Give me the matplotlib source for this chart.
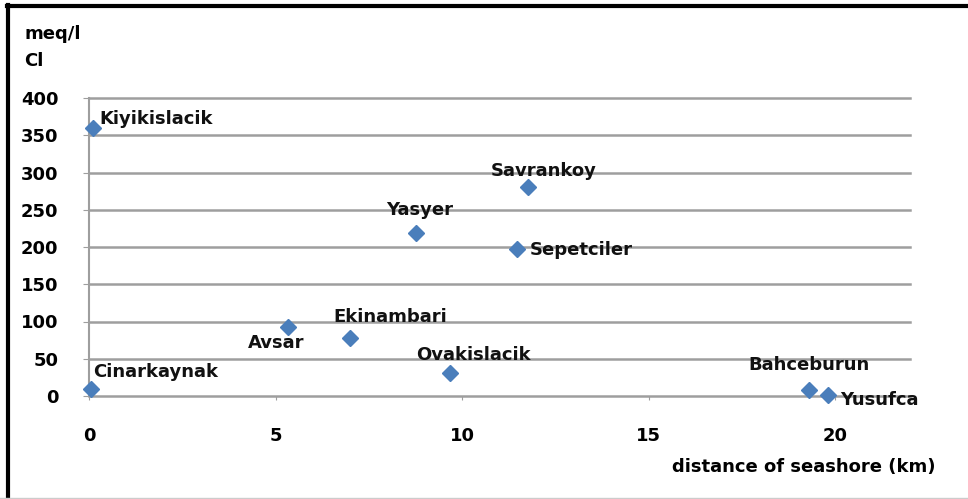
import matplotlib
matplotlib.use("Agg")
import matplotlib.pyplot as plt
from matplotlib.lines import Line2D

# Cl concentration vs distance from seashore
villages = ["Kiyikislacik", "Cinarkaynak", "Avsar", "Ekinambari", "Yasyer",
            "Ovakislacik", "Sepetciler", "Savrankoy", "Bahceburun", "Yusufca"]
distance_km = [0.1, 0.05, 5.32, 7.0, 8.76, 9.68, 11.48, 11.77, 19.3, 19.8]
cl_meq = [360, 9, 93, 78, 219, 31, 197, 281, 8, 2]

x_ticks = [0, 5, 10, 15, 20]
y_ticks = [0, 50, 100, 150, 200, 250, 300, 350, 400]

# label placement (offset in pixels, horizontal alignment)
label_pos = {
    "Kiyikislacik": (7, 9, "left"),
    "Cinarkaynak": (2, 17, "left"),
    "Avsar": (-11, -16, "center"),
    "Ekinambari": (40, 21, "center"),
    "Yasyer": (4, 23, "center"),
    "Ovakislacik": (23, 18, "center"),
    "Sepetciler": (12, -1, "left"),
    "Savrankoy": (15, 16, "center"),
    "Bahceburun": (0, 25, "center"),
    "Yusufca": (12, -5, "left"),
}

plt.rcParams["font.family"] = "DejaVu Sans"
plt.rcParams["font.weight"] = "bold"

fig = plt.figure(figsize=(9.68, 4.99), dpi=100)
ax = fig.add_axes([89 / 968, 103 / 499, 821 / 968, 298 / 499])

grid_color = "#9e9e9e"
ax.set_xlim(0, 22)
ax.set_ylim(0, 400)
ax.set_yticks(y_ticks)
ax.set_xticks(x_ticks)
ax.grid(axis="y", color=grid_color, linewidth=1.8)
ax.set_axisbelow(True)
for gl in ax.get_ygridlines():
    gl.set_clip_on(False)

for side in ["top", "right", "bottom"]:
    ax.spines[side].set_visible(False)
ax.spines["left"].set_color(grid_color)
ax.spines["left"].set_linewidth(1.5)

ax.tick_params(axis="y", length=4, color=grid_color, pad=18, labelsize=13)
ax.tick_params(axis="x", length=3, color=grid_color, pad=19, labelsize=13)
for lab in ax.get_xticklabels() + ax.get_yticklabels():
    lab.set_fontweight("bold")

ax.plot(distance_km, cl_meq, linestyle="none", marker="D", markersize=8.5,
        color="#4a7ebb", markeredgecolor="#4a7ebb", zorder=3, clip_on=False)

for name, xv, yv in zip(villages, distance_km, cl_meq):
    dx, dy, ha = label_pos[name]
    ax.annotate(name, (xv, yv), xytext=(dx, dy), textcoords="offset pixels",
                ha=ha, va="center", fontsize=13, fontweight="bold",
                color="#111111", zorder=4)

fig.text(24 / 968, 1 - 34 / 499, "meq/l", fontsize=13, fontweight="bold",
         va="center", ha="left")
fig.text(24 / 968, 1 - 61 / 499, "Cl", fontsize=13, fontweight="bold",
         va="center", ha="left")
fig.text(935 / 968, 1 - 467 / 499, "distance of seashore (km)", fontsize=13,
         fontweight="bold", va="center", ha="right")

# outer frame like the original screenshot
fig.add_artist(Line2D([8 / 968, 8 / 968], [0, 1 - 5 / 499], color="black",
                      linewidth=3, transform=fig.transFigure))
fig.add_artist(Line2D([7 / 968, 1], [1 - 6 / 499, 1 - 6 / 499], color="black",
                      linewidth=3, transform=fig.transFigure))
fig.add_artist(Line2D([0, 1], [1.5 / 499, 1.5 / 499], color="#cccccc",
                      linewidth=1, transform=fig.transFigure))

fig.savefig("out.png", dpi=100)
plt.close(fig)
